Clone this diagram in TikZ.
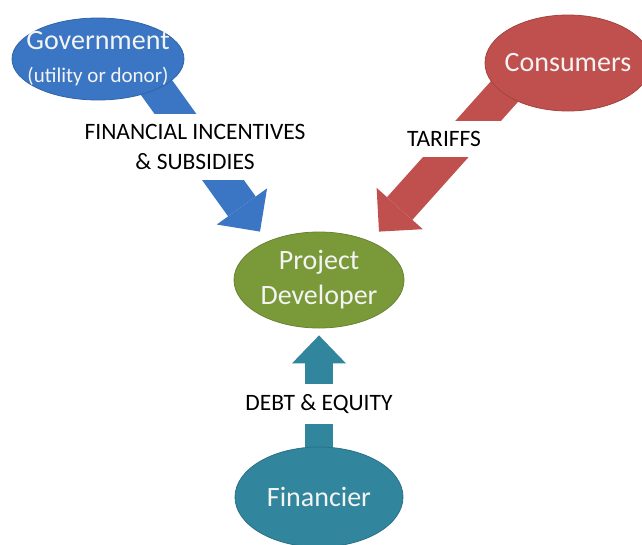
\documentclass[tikz,border=0pt]{standalone}
\usepackage{fontspec}
\setmainfont{Carlito}
\usetikzlibrary{arrows.meta,backgrounds,shapes.geometric}
\definecolor{govblue}{HTML}{3A76C4}
\definecolor{consred}{HTML}{C0504D}
\definecolor{devgreen}{HTML}{7A9A3A}
\definecolor{finteal}{HTML}{31859C}
\definecolor{lighttext}{HTML}{F4F4F4}
\begin{document}
\begin{tikzpicture}[x=1pt,y=-1pt,
    bubble/.style = {ellipse, fill=#1, draw=#1!85!black, line width=0.8pt, inner sep=0pt},
    bubbletext/.style = {text=lighttext, align=center, font=\fontsize{28}{35}\selectfont},
    flowarrow/.style = {draw=#1, line width=34pt, -{Triangle[length=31pt,width=62pt,line width=0pt]}},
    flowlabel/.style = {fill=white, inner xsep=4pt, inner ysep=10pt, align=center, font=\fontsize{23.5}{30}\selectfont}]
  \useasboundingbox (0,0) rectangle (642,544);

  % parties
  \node[bubble=govblue, minimum width=172pt, minimum height=82pt,
        label={[bubbletext, font=\fontsize{28}{33}\selectfont]center:Government\\{\fontsize{21}{25}\selectfont(utility or donor)}}] (gov) at (98,59) {};
  \node[bubble=consred, minimum width=166pt, minimum height=96pt,
        label={[bubbletext]center:Consumers}] (cons) at (568,63) {};
  \node[bubble=devgreen, minimum width=170pt, minimum height=96pt,
        label={[bubbletext]center:Project\\Developer}] (dev) at (319,280) {};
  \node[bubble=finteal, minimum width=168pt, minimum height=100pt,
        label={[bubbletext]center:Financier}] (fin) at (319,497) {};

  % flows
  \begin{scope}[on background layer]
    \draw[flowarrow=govblue] ([xshift=38pt]gov.center) -- ([xshift=-59pt]dev.north);
    \draw[flowarrow=consred] ([xshift=-38pt]cons.center) -- ([xshift=60pt]dev.north);
    \draw[flowarrow=finteal, line width=28pt, -{Triangle[length=28pt,width=54pt,line width=0pt]}]
      (fin.center) -- ([yshift=-7pt]dev.south);
  \end{scope}

  % labels
  \node[flowlabel] (subsidies) at (195,147) {FINANCIAL INCENTIVES\\\& SUBSIDIES};
  \node[flowlabel, minimum width=140pt] (tariffs) at (444,139) {TARIFFS};
  \node[flowlabel] (debt) at (319,404) {DEBT \& EQUITY};
\end{tikzpicture}
\end{document}
